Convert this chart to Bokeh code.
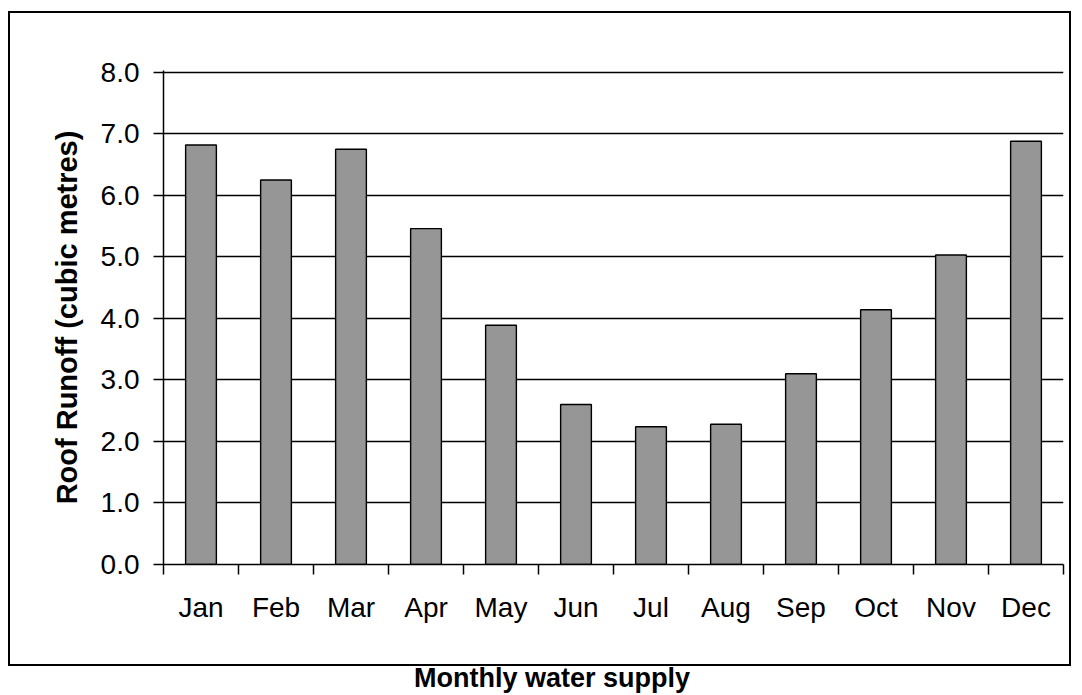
from bokeh.plotting import figure
from bokeh.layouts import column
from bokeh.models import (ColumnDataSource, FixedTicker, Div,
                          NumeralTickFormatter, Range1d)
from bokeh.embed import file_html
from bokeh.resources import INLINE

months = ["Jan", "Feb", "Mar", "Apr", "May", "Jun", "Jul", "Aug", "Sep", "Oct", "Nov", "Dec"]
runoff = [6.82, 6.25, 6.75, 5.46, 3.89, 2.60, 2.24, 2.28, 3.10, 4.14, 5.03, 6.88]
y_ticks = [0, 1, 2, 3, 4, 5, 6, 7, 8]
y_label = "Roof Runoff (cubic metres)"
x_title = "Monthly water supply"

FONT = "Liberation Sans"
W, H = 1063, 655

pos = [i + 0.5 for i in range(len(months))]
src = ColumnDataSource(dict(x=pos, top=runoff, month=months))

p = figure(width=W, height=H, output_backend="svg", toolbar_location=None,
           x_range=Range1d(0, len(months)), y_range=Range1d(0, 8.03),
           min_border_left=153, min_border_right=10, min_border_top=57,
           min_border_bottom=104, margin=(11, 0, 0, 8),
           styles={"border": "2px solid black"})
p.outline_line_color = None
p.background_fill_color = "white"
p.border_fill_color = "white"

p.vbar(x="x", top="top", width=0.41, bottom=0, source=src,
       fill_color="#969696", line_color="black", line_width=1.4)

xa = p.xaxis[0]
xa.ticker = FixedTicker(ticks=pos, minor_ticks=list(range(len(months) + 1)))
xa.major_label_overrides = {v: m for v, m in zip(pos, months)}
xa.major_tick_out = 0
xa.major_tick_in = 0
xa.minor_tick_out = 10
xa.minor_tick_in = 0
xa.minor_tick_line_color = "black"
xa.minor_tick_line_width = 1.5
xa.axis_line_color = "black"
xa.axis_line_width = 1.5
xa.major_label_text_font = FONT
xa.major_label_text_font_size = "28px"
xa.major_label_text_color = "black"
xa.major_label_standoff = 17

ya = p.yaxis[0]
ya.ticker = FixedTicker(ticks=y_ticks, minor_ticks=[])
ya.formatter = NumeralTickFormatter(format="0.0")
ya.major_tick_out = 10
ya.major_tick_in = 0
ya.major_tick_line_color = "black"
ya.major_tick_line_width = 1.5
ya.axis_line_color = "black"
ya.axis_line_width = 1.5
ya.major_label_text_font = FONT
ya.major_label_text_font_size = "28px"
ya.major_label_text_color = "black"
ya.major_label_standoff = 14
ya.axis_label = y_label
ya.axis_label_text_font = FONT
ya.axis_label_text_font_size = "29px"
ya.axis_label_text_font_style = "bold"
ya.axis_label_text_color = "black"
ya.axis_label_standoff = 15

p.xgrid.grid_line_color = None
p.ygrid.grid_line_color = "black"
p.ygrid.grid_line_width = 1.4
p.ygrid.grid_line_alpha = 1.0

title = Div(text=x_title, width=540, height=26, margin=(0, 0, 0, 282),
            styles={"text-align": "center", "font-family": FONT,
                    "font-weight": "bold", "font-size": "27px",
                    "line-height": "24px", "color": "black", "width": "540px"})

layout = column(p, title, spacing=0)
open("out.html", "w").write(file_html(layout, INLINE))
